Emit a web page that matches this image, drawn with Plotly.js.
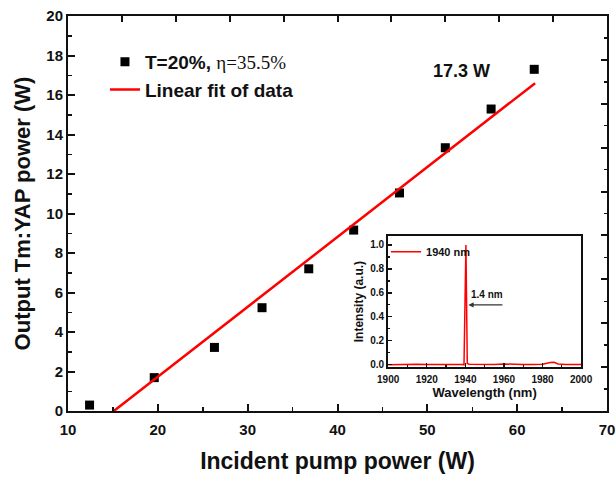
<!DOCTYPE html>
<html><head><meta charset="utf-8">
<script src="https://cdn.plot.ly/plotly-3.0.1.min.js"></script>
<style>html,body{margin:0;padding:0;background:#fff}</style>
</head><body>
<div id="chart" style="width:616px;height:479px"></div>
<script>
// Main data: incident pump power (W) vs output power (W)
const pumpPower   = [12.4, 19.6, 26.3, 31.6, 36.8, 41.8, 46.9, 52.0, 57.1, 61.9];
const outputPower = [0.3, 1.69, 3.22, 5.23, 7.2, 9.16, 11.04, 13.33, 15.29, 17.3];
// Linear fit end points
const fitX = [15.1, 62.0];
const fitY = [0.0, 16.6];
// Inset spectrum
const wavelength = [1900, 1905, 1910, 1915, 1920, 1925, 1930, 1935, 1938.5, 1939.3, 1940.3, 1941.0, 1942, 1950, 1955, 1960, 1965, 1970, 1975, 1980, 1984, 1986, 1988, 1992, 2000];
const intensity  = [0.0, 0.003, 0.0, 0.004, 0.002, 0.0, 0.004, 0.002, 0.003, 0.0, 1.0, 0.01, 0.004, 0.002, 0.003, 0.006, 0.002, 0.003, 0.002, 0.004, 0.018, 0.02, 0.006, 0.002, 0.003];
// Tick values
const xTickVals = [10, 20, 30, 40, 50, 60, 70];
const yTickVals = [0, 2, 4, 6, 8, 10, 12, 14, 16, 18, 20];
const insetXTicks = [1900, 1920, 1940, 1960, 1980, 2000];
const insetYTicks = [0, 0.2, 0.4, 0.6, 0.8, 1.0];

const FF = "Liberation Sans, Arial, sans-serif";
const bold = (s) => ({family: FF, size: s, weight: 'bold', color: '#111'});

const traces = [
  {x: pumpPower, y: outputPower, mode: 'markers', type: 'scatter',
   name: 'T=20%, <span style="font-family:Liberation Serif;font-weight:normal">η=35.5%</span>',
   marker: {symbol: 'square', size: 9, color: '#000'}, legend: 'legend'},
  {x: fitX, y: fitY, mode: 'lines', type: 'scatter', name: 'Linear fit of data',
   line: {color: '#ff0000', width: 2.5}, legend: 'legend'},
  {x: wavelength, y: intensity, mode: 'lines', type: 'scatter', name: '1940 nm',
   xaxis: 'x2', yaxis: 'y2', line: {color: '#ff0000', width: 1.5}, legend: 'legend2'},
  {x: [], y: [], xaxis: 'x3', yaxis: 'y3', type: 'scatter', showlegend: false, hoverinfo: 'skip'}
];

const layout = {
  width: 616, height: 479,
  margin: {l: 68, r: 9, t: 16, b: 68},
  paper_bgcolor: '#fff', plot_bgcolor: '#fff',
  showlegend: true,
  xaxis: {
    range: [10, 70], tickvals: xTickVals, ticks: 'inside', ticklen: 7, tickwidth: 2, tickcolor: '#111',
    minor: {dtick: 5, tick0: 10, ticks: 'inside', ticklen: 4, tickwidth: 1.5, tickcolor: '#111'},
    showline: true, linewidth: 2, linecolor: '#111', mirror: false, showgrid: false, zeroline: false,
    tickfont: bold(15), ticklabelstandoff: 4,
    title: {text: 'Incident pump power (W)', font: bold(23), standoff: 16}
  },
  yaxis: {
    range: [0, 20], tickvals: yTickVals, ticks: 'inside', ticklen: 7, tickwidth: 2, tickcolor: '#111',
    minor: {dtick: 1, tick0: 0, ticks: 'inside', ticklen: 4, tickwidth: 1.5, tickcolor: '#111'},
    showline: true, linewidth: 2, linecolor: '#111', mirror: false, showgrid: false, zeroline: false,
    tickfont: bold(15),
    title: {text: 'Output Tm:YAP power (W)', font: bold(22), standoff: 10}
  },
  xaxis3: {overlaying: 'x', side: 'top', anchor: 'y', range: [0, 10], dtick: 1, ticks: 'inside', ticklen: 6, tickwidth: 2, tickcolor: '#111',
    showticklabels: false, showline: true, linewidth: 2, linecolor: '#111', showgrid: false, zeroline: false},
  yaxis3: {overlaying: 'y', side: 'right', anchor: 'x', range: [0, 9], dtick: 1, ticks: 'inside', ticklen: 6, tickwidth: 2, tickcolor: '#111',
    minor: {dtick: 0.5, ticks: 'inside', ticklen: 3, tickwidth: 1.5, tickcolor: '#111'},
    showticklabels: false, showline: true, linewidth: 2, linecolor: '#111', showgrid: false, zeroline: false},
  xaxis2: {
    domain: [0.594, 0.952], anchor: 'y2', range: [1900, 2000], tickvals: insetXTicks,
    ticks: 'inside', ticklen: 4, tickwidth: 1.2, tickcolor: '#111',
    minor: {dtick: 10, ticks: 'inside', ticklen: 2, tickcolor: '#111'},
    showline: true, linewidth: 2, linecolor: '#111', mirror: true, showgrid: false, zeroline: false,
    tickfont: bold(10), ticklabelstandoff: 2,
    title: {text: 'Wavelength (nm)', font: bold(13), standoff: 2}
  },
  yaxis2: {
    domain: [0.111, 0.443], anchor: 'x2', range: [-0.02, 1.075], tickvals: insetYTicks, tickformat: '.1f',
    ticks: 'inside', ticklen: 4, tickwidth: 1.2, tickcolor: '#111',
    minor: {dtick: 0.1, ticks: 'inside', ticklen: 2, tickcolor: '#111'},
    showline: true, linewidth: 2, linecolor: '#111', mirror: true, showgrid: false, zeroline: false,
    tickfont: bold(10),
    title: {text: 'Intensity (a.u.)', font: bold(12), standoff: 4}
  },
  legend: {x: 0.0686, y: 0.932, xanchor: 'left', yanchor: 'top', bgcolor: 'rgba(0,0,0,0)',
    font: bold(19), tracegroupgap: 0},
  legend2: {x: 0.59, y: 0.44, xanchor: 'left', yanchor: 'top', bgcolor: 'rgba(0,0,0,0)',
    font: bold(11)},
  annotations: [
    {text: '17.3 W', x: 53.8, y: 17.2, xref: 'x', yref: 'y', showarrow: false, font: bold(18)},
    {text: '', x: 1941.6, y: 0.5, ax: 1960, ay: 0.5, xref: 'x2', yref: 'y2', axref: 'x2', ayref: 'y2',
     showarrow: true, arrowhead: 2, arrowsize: 0.8, arrowwidth: 1.3, arrowcolor: '#333'},
    {text: '1.4 nm', x: 1951, y: 0.585, xref: 'x2', yref: 'y2', showarrow: false, font: bold(10)}
  ]
};

Plotly.newPlot('chart', traces, layout, {displayModeBar: false, staticPlot: true});
</script>
</body></html>
